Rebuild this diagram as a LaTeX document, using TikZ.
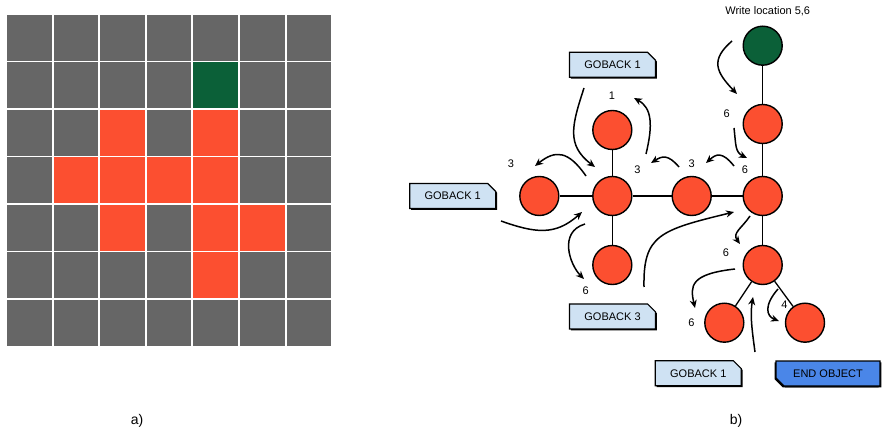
\documentclass[tikz,border=0pt]{standalone}
\usepackage{fontspec}
\setmainfont{Liberation Sans}
\usetikzlibrary{arrows.meta,shapes.misc,shadows}

% colours
\definecolor{cellgray}{HTML}{666666}
\definecolor{cellred}{HTML}{FC4F30}
\definecolor{cellgreen}{HTML}{0B6038}
\definecolor{boxblue}{HTML}{CFE2F3}
\definecolor{endblue}{HTML}{4A86E8}

% colour of grid cell (row, column); grey unless set below
\newcommand\gridcolour[2]{\ifcsname gc@#1@#2\endcsname\csname gc@#1@#2\endcsname\else cellgray\fi}
\expandafter\def\csname gc@1@4\endcsname{cellgreen}
\expandafter\def\csname gc@2@2\endcsname{cellred}
\expandafter\def\csname gc@2@4\endcsname{cellred}
\expandafter\def\csname gc@3@1\endcsname{cellred}
\expandafter\def\csname gc@3@2\endcsname{cellred}
\expandafter\def\csname gc@3@3\endcsname{cellred}
\expandafter\def\csname gc@3@4\endcsname{cellred}
\expandafter\def\csname gc@4@2\endcsname{cellred}
\expandafter\def\csname gc@4@4\endcsname{cellred}
\expandafter\def\csname gc@4@5\endcsname{cellred}
\expandafter\def\csname gc@5@4\endcsname{cellred}

\tikzset{
  cell/.style={rectangle, inner sep=0pt, outer sep=0pt, minimum width=44.6pt, minimum height=45.6pt},
  vertex/.style={circle, draw=black, line width=1.4pt, fill=cellred, minimum size=39pt, inner sep=0pt},
  startvertex/.style={vertex, fill=cellgreen},
  link/.style={line width=1.3pt},
  move/.style={line width=1.5pt, -{Stealth[length=8pt, width=7pt, inset=2.5pt]}},
  num/.style={font=\fontsize{11}{13}\selectfont, inner sep=0pt},
  gobox/.style={chamfered rectangle, chamfered rectangle corners=north east,
    chamfered rectangle xsep=4pt, chamfered rectangle ysep=4pt,
    draw=black, line width=1.2pt, fill=boxblue, minimum width=86pt, minimum height=25pt,
    inner sep=0pt, font=\fontsize{11}{13}\selectfont,
    drop shadow={shadow xshift=1.3pt, shadow yshift=-1.3pt, fill=black, opacity=1}},
  endbox/.style={gobox, chamfered rectangle corners=south west, fill=endblue, minimum width=104pt,
    drop shadow={shadow xshift=-1.3pt, shadow yshift=-1.3pt, fill=black, opacity=1}},
  caption/.style={font=\fontsize{14}{16}\selectfont, inner sep=0pt}
}

\begin{document}
\begin{tikzpicture}[x=1pt, y=-1pt]
\useasboundingbox (0,0) rectangle (883,435);

% ---- a) the 7x7 grid ----
\foreach \r in {0,...,6} {
  \foreach \c in {0,...,6} {
    \edef\cc{\gridcolour{\r}{\c}}
    \node[cell, fill=\cc] (g\r\c) at ({7+46.6*\c+22.3}, {15+47.5*\r+22.8}) {};
  }
}
\node[caption] (capa) at (137,421) {a)};

% ---- b) the graph ----
\node[startvertex] (w0) at (762.7,45.7) {};
\node[vertex] (r1) at (762.7,124) {};
\node[vertex] (r2) at (762.7,196) {};
\node[vertex] (r3) at (762.7,265) {};
\node[vertex] (c1) at (724.3,322.7) {};
\node[vertex] (c2) at (805,322.7) {};
\node[vertex] (m0) at (612.3,130) {};
\node[vertex] (m1) at (612.3,196) {};
\node[vertex] (m2) at (612.3,265) {};
\node[vertex] (lf) at (539.3,196) {};
\node[vertex] (hz) at (691.7,196) {};

\draw[link] (w0) -- (r1);
\draw[link] (r1) -- (r2);
\draw[link] (r2) -- (r3);
\draw[link] (r3) -- (c1);
\draw[link] (r3) -- (c2);
\draw[link] (lf) -- (m1);
\draw[link] (m1) -- (hz);
\draw[link] (hz) -- (r2);
\draw[link] (m0) -- (m1);
\draw[link] (m1) -- (m2);

% boxes
\node[gobox] (gb1) at (612.5,64.8) {GOBACK 1};
\node[gobox] (gb2) at (452.7,196) {GOBACK 1};
\node[gobox] (gb3) at (612.5,316.5) {GOBACK 3};
\node[gobox] (gb4) at (698.3,373.3) {GOBACK 1};
\node[endbox] (eo) at (828,373.5) {END OBJECT};

% labels
\node[num] (wl) at (767.7,11) {Write location 5,6};
\node[num] (n1) at (612,96) {1};
\node[num] (n2) at (511,164) {3};
\node[num] (n3) at (637.3,170) {3};
\node[num] (n4) at (691.7,163.3) {3};
\node[num] (n5) at (726.7,114) {6};
\node[num] (n6) at (745,170) {6};
\node[num] (n7) at (726,252.7) {6};
\node[num] (n8) at (585.7,290.7) {6};
\node[num] (n9) at (691.3,322.7) {6};
\node[num] (n10) at (784.3,305) {4};
\node[caption] (capb) at (736,421) {b)};

% traversal arrows
\coordinate (a1s) at (584,88);   \coordinate (a1e) at (595,167);
\coordinate (a2s) at (586,176);  \coordinate (a2e) at (535,166);
\coordinate (a3s) at (646,154);  \coordinate (a3e) at (634,98);
\coordinate (a4s) at (679,167);  \coordinate (a4e) at (651,163);
\coordinate (a5s) at (734,166);  \coordinate (a5e) at (706,163);
\coordinate (a6s) at (732,41);   \coordinate (a6e) at (737,94);
\coordinate (a7s) at (734,128);  \coordinate (a7e) at (747,158);
\coordinate (a8s) at (501,221);  \coordinate (a8e) at (582,212);
\coordinate (a9s) at (585,224);  \coordinate (a9e) at (584,279);
\coordinate (a10s) at (644,287); \coordinate (a10e) at (734,212);
\coordinate (a11s) at (750,216); \coordinate (a11e) at (740,244);
\coordinate (a12s) at (735,269); \coordinate (a12e) at (695,308);
\coordinate (a13s) at (755,352); \coordinate (a13e) at (753,297);
\coordinate (a14s) at (778,289); \coordinate (a14e) at (779,321);

\draw[move] (a1s) .. controls (572,125) and (566,145) .. (a1e);
\draw[move] (a2s) .. controls (568,150) and (555,150) .. (a2e);
\draw[move] (a3s) .. controls (653,125) and (652,108) .. (a3e);
\draw[move] (a4s) .. controls (668,154) and (662,156) .. (a4e);
\draw[move] (a5s) .. controls (722,151) and (716,154) .. (a5e);
\draw[move] (a6s) .. controls (710,60) and (716,72) .. (a6e);
\draw[move] (a7s) .. controls (736,145) and (735,152) .. (a7e);
\draw[move] (a8s) .. controls (535,233) and (555,236) .. (a8e);
\draw[move] (a9s) .. controls (558,232) and (570,265) .. (a9e);
\draw[move] (a10s) .. controls (643,235) and (660,230) .. (a10e);
\draw[move] (a11s) .. controls (742,228) and (732,233) .. (a11e);
\draw[move] (a12s) .. controls (690,274) and (690,286) .. (a12e);
\draw[move] (a13s) .. controls (752,330) and (750,315) .. (a13e);
\draw[move] (a14s) .. controls (764,305) and (766,316) .. (a14e);
\end{tikzpicture}
\end{document}
